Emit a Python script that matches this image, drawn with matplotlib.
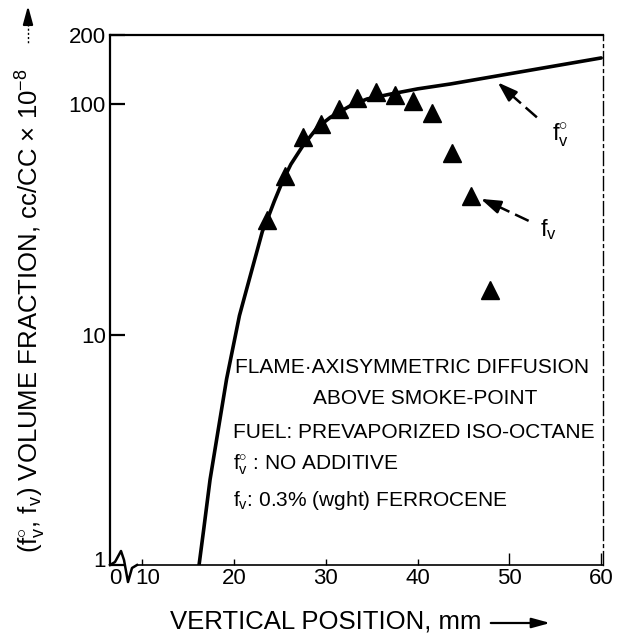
import matplotlib
matplotlib.use("Agg")
import matplotlib.pyplot as plt
from matplotlib.lines import Line2D
from matplotlib.transforms import ScaledTranslation

plt.rcParams['font.family'] = ['Liberation Sans', 'DejaVu Sans']
plt.rcParams['mathtext.fontset'] = 'custom'
plt.rcParams['mathtext.rm'] = 'Liberation Sans'
plt.rcParams['mathtext.it'] = 'Liberation Sans'
plt.rcParams['mathtext.default'] = 'rm'

# ---- data ----
curve_x = [16.2, 16.7, 17.4, 18.3, 19.2, 20.6, 21.5, 22.4, 23.1, 23.7, 24.4, 25.3, 26.2,
           27.5, 29.1, 30.5, 32.7, 34.5, 37.1, 40.0, 43.6, 60.0]
curve_y = [1.0, 1.42, 2.35, 3.89, 6.42, 12.1, 16.4, 22.2, 28.1, 32.1, 38.0, 46.4, 54.9,
           66.0, 79.4, 87.8, 98.7, 105.5, 110.9, 116.7, 122.6, 159.0]

tri_x = [23.6, 25.6, 27.5, 29.5, 31.4, 33.4, 35.5, 37.5, 39.5, 41.6, 43.7, 45.8, 47.9]
tri_y = [31.6, 48.9, 71.8, 82.0, 95.4, 106.6, 112.8, 110.3, 103.8, 91.4, 61.7, 39.9, 15.6]

xtick_pos = [7.4, 10, 20, 30, 40, 50, 60]
xtick_lab = ['0', '10', '20', '30', '40', '50', '60']
ytick_pos = [1, 10, 100, 200]
ytick_lab = ['1', '10', '100', '200']

W, H = 621, 642
def fx(px):
    return px / W
def fy(py):
    return 1 - py / H

fig = plt.figure(figsize=(W / 100, H / 100), dpi=100)
ax = fig.add_axes([fx(110), 1 - 565 / H, 493 / W, 530 / H])
ax.set_yscale('log')
ax.set_xlim(6.5, 60.2)
ax.set_ylim(1, 200)

ax.plot(curve_x, curve_y, color='black', lw=2.6, solid_capstyle='round',
        solid_joinstyle='round', zorder=3)
ax.plot(tri_x, tri_y, linestyle='none', marker='^', markersize=13,
        color='black', zorder=4)

# ticks
ax.set_xticks(xtick_pos)
ax.set_xticklabels(xtick_lab, fontsize=16)
ax.set_yticks(ytick_pos)
ax.set_yticklabels(ytick_lab, fontsize=16)
ax.yaxis.set_minor_locator(matplotlib.ticker.NullLocator())
ax.tick_params(axis='x', direction='in', length=4, width=1.0, pad=2)
ax.tick_params(axis='y', direction='in', length=11, width=1.6, pad=3)
xt = ax.xaxis.get_major_ticks()
xt[0].tick1line.set_visible(False)
xt[5].tick1line.set_markersize(9)
xt[6].tick1line.set_markersize(9)
labs = ax.get_xticklabels()
labs[0].set_transform(labs[0].get_transform() + ScaledTranslation(-3 / 100, 0, fig.dpi_scale_trans))
labs[1].set_transform(labs[1].get_transform() + ScaledTranslation(6 / 100, 0, fig.dpi_scale_trans))
ylabs = ax.get_yticklabels()
ylabs[0].set_transform(ylabs[0].get_transform() + ScaledTranslation(0, 6 / 100, fig.dpi_scale_trans))

# spines
for s in ['left', 'top']:
    ax.spines[s].set_linewidth(1.6)
ax.spines['bottom'].set_linewidth(1.2)
ax.spines['bottom'].set_bounds(9.45, 60.2)
ax.spines['right'].set_linewidth(1.0)
ax.spines['right'].set_linestyle((0, (10, 3, 2, 3)))

# axis break zigzag
zx = [110, 115, 121, 124, 128, 132, 137]
zy = [565, 562, 551, 560, 582, 568, 565]
fig.add_artist(Line2D([fx(v) for v in zx], [fy(v) for v in zy],
                      transform=fig.transFigure, color='black', lw=1.8))

# axis labels
fig.text(fx(31), fy(311),
         r"($\mathrm{f_v^{\circ}}$, $\mathrm{f_v}$) VOLUME FRACTION, cc/CC $\times$ 10$^{-8}$",
         rotation=90, ha='center', va='center', fontsize=18.5)
fig.text(fx(326), fy(622), "VERTICAL POSITION, mm", ha='center', va='center', fontsize=18.5)

# axis arrows
fig.add_artist(Line2D([fx(28), fx(28)], [fy(24), fy(43)], transform=fig.transFigure,
                      color='black', lw=1.0, linestyle=(0, (1.5, 1.5))))
ax.annotate('', xy=(fx(28), fy(3)), xytext=(fx(28), fy(26)),
            xycoords='figure fraction', textcoords='figure fraction',
            arrowprops=dict(arrowstyle='-|>,head_length=1.1,head_width=0.3',
                            color='black', lw=1.5))
ax.annotate('', xy=(fx(553), fy(623)), xytext=(fx(488), fy(623)),
            xycoords='figure fraction', textcoords='figure fraction',
            arrowprops=dict(arrowstyle='-|>,head_length=1.1,head_width=0.3',
                            color='black', lw=1.6))

# annotation arrows in the plot
def dashed_arrow(head, tail, mid):
    ax.plot([tail[0], mid[0]], [tail[1], mid[1]], color='black', lw=1.8,
            linestyle=(0, (6, 2.5)))
    ax.annotate('', xy=head, xytext=mid,
                arrowprops=dict(arrowstyle='-|>,head_length=1.2,head_width=0.4',
                                color='black', lw=1.8))

dashed_arrow((48.5, 127.0), (53.0, 87.8), (50.2, 110.0))
ax.text(55.6, 73.3, r"$\mathrm{f_v^{\circ}}$", fontsize=17, ha='center', va='center')
dashed_arrow((46.6, 39.3), (52.1, 31.2), (48.8, 36.0))
ax.text(54.3, 28.5, r"$\mathrm{f_v}$", fontsize=17, ha='center', va='center')

# text block
tk = dict(fontsize=15, ha='left', va='center', transform=fig.transFigure)
fig.text(fx(235), fy(368), "FLAME\u00b7AXISYMMETRIC DIFFUSION", **tk)
fig.text(fx(313), fy(398), "ABOVE SMOKE-POINT", **tk)
fig.text(fx(233), fy(433), "FUEL: PREVAPORIZED ISO-OCTANE", **tk)
fig.text(fx(233), fy(465), r"$\mathrm{f_v^{\circ}}$ : NO ADDITIVE", **tk)
fig.text(fx(233), fy(500), r"$\mathrm{f_v}$: 0.3% (wght) FERROCENE", **tk)

fig.savefig('out.png', dpi=100, facecolor='white')
